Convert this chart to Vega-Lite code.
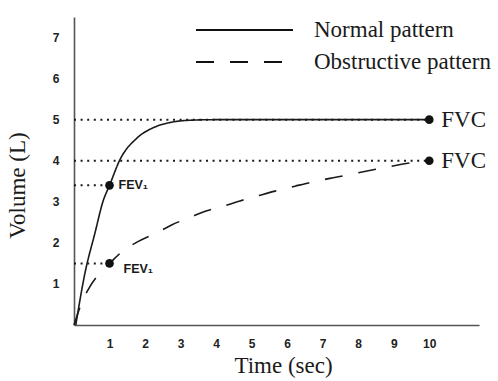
{
  "$schema": "https://vega.github.io/schema/vega-lite/v6.json",
  "width": 405,
  "height": 308,
  "autosize": {"type": "none"},
  "padding": {"left": 74, "top": 17, "right": 19, "bottom": 56},
  "background": "white",
  "datasets": {
    "curves": [
      {"pattern": "Normal pattern", "time": 0.05, "volume": 0},
      {"pattern": "Normal pattern", "time": 0.31, "volume": 1.27},
      {"pattern": "Normal pattern", "time": 0.59, "volume": 2.24},
      {"pattern": "Normal pattern", "time": 0.82, "volume": 3.02},
      {"pattern": "Normal pattern", "time": 1.0, "volume": 3.4},
      {"pattern": "Normal pattern", "time": 1.29, "volume": 4.02},
      {"pattern": "Normal pattern", "time": 1.77, "volume": 4.55},
      {"pattern": "Normal pattern", "time": 2.22, "volume": 4.8},
      {"pattern": "Normal pattern", "time": 2.7, "volume": 4.93},
      {"pattern": "Normal pattern", "time": 3.35, "volume": 4.99},
      {"pattern": "Normal pattern", "time": 4.0, "volume": 5.0},
      {"pattern": "Normal pattern", "time": 10.0, "volume": 5.0},
      {"pattern": "Obstructive pattern", "time": 0, "volume": 0},
      {"pattern": "Obstructive pattern", "time": 0.2, "volume": 0.5},
      {"pattern": "Obstructive pattern", "time": 0.39, "volume": 0.85},
      {"pattern": "Obstructive pattern", "time": 0.73, "volume": 1.27},
      {"pattern": "Obstructive pattern", "time": 1.0, "volume": 1.5},
      {"pattern": "Obstructive pattern", "time": 1.4, "volume": 1.82},
      {"pattern": "Obstructive pattern", "time": 1.8, "volume": 2.03},
      {"pattern": "Obstructive pattern", "time": 2.36, "volume": 2.26},
      {"pattern": "Obstructive pattern", "time": 2.76, "volume": 2.44},
      {"pattern": "Obstructive pattern", "time": 3.32, "volume": 2.64},
      {"pattern": "Obstructive pattern", "time": 3.74, "volume": 2.78},
      {"pattern": "Obstructive pattern", "time": 4.31, "volume": 2.92},
      {"pattern": "Obstructive pattern", "time": 4.67, "volume": 3.02},
      {"pattern": "Obstructive pattern", "time": 5.24, "volume": 3.16},
      {"pattern": "Obstructive pattern", "time": 5.66, "volume": 3.26},
      {"pattern": "Obstructive pattern", "time": 6.22, "volume": 3.38},
      {"pattern": "Obstructive pattern", "time": 6.7, "volume": 3.48},
      {"pattern": "Obstructive pattern", "time": 7.26, "volume": 3.58},
      {"pattern": "Obstructive pattern", "time": 7.68, "volume": 3.65},
      {"pattern": "Obstructive pattern", "time": 8.25, "volume": 3.75},
      {"pattern": "Obstructive pattern", "time": 8.67, "volume": 3.82},
      {"pattern": "Obstructive pattern", "time": 9.26, "volume": 3.92},
      {"pattern": "Obstructive pattern", "time": 10.0, "volume": 4.0}
    ],
    "guides": [
      {"level": 5, "start": 0, "end": 10},
      {"level": 4, "start": 0, "end": 10},
      {"level": 3.4, "start": 0, "end": 1},
      {"level": 1.5, "start": 0, "end": 1}
    ],
    "marks": [
      {"pattern": "Normal pattern", "kind": "FEV", "time": 1, "volume": 3.4, "label": "FEV₁"},
      {"pattern": "Obstructive pattern", "kind": "FEV", "time": 1, "volume": 1.5, "label": "FEV₁"},
      {"pattern": "Normal pattern", "kind": "FVC", "time": 10, "volume": 5, "label": "FVC"},
      {"pattern": "Obstructive pattern", "kind": "FVC", "time": 10, "volume": 4, "label": "FVC"}
    ]
  },
  "encoding": {
    "x": {
      "type": "quantitative",
      "scale": {"domain": [0, 11.4], "nice": false, "zero": false},
      "axis": {
        "title": "Time (sec)",
        "values": [1, 2, 3, 4, 5, 6, 7, 8, 9, 10],
        "titleX": 209,
        "titleY": 47,
        "titleAlign": "center",
        "titleBaseline": "alphabetic",
        "labelPadding": 13
      }
    },
    "y": {
      "type": "quantitative",
      "scale": {"domain": [0, 7.5], "nice": false},
      "axis": {
        "title": "Volume (L)",
        "values": [1, 2, 3, 4, 5, 6, 7],
        "titleX": -57,
        "titleY": 168,
        "titleAngle": -90,
        "titleAlign": "center",
        "titleBaseline": "middle",
        "labelPadding": 15
      }
    }
  },
  "layer": [
    {
      "data": {"name": "guides"},
      "mark": {"type": "rule", "stroke": "#1a1a1a", "strokeWidth": 2, "strokeDash": [2, 4.6]},
      "encoding": {
        "x": {"field": "start", "type": "quantitative"},
        "x2": {"field": "end"},
        "y": {"field": "level", "type": "quantitative"}
      }
    },
    {
      "data": {"name": "curves"},
      "mark": {"type": "line", "stroke": "#1a1a1a", "strokeWidth": 1.6, "interpolate": "monotone"},
      "encoding": {
        "x": {"field": "time", "type": "quantitative"},
        "y": {"field": "volume", "type": "quantitative"},
        "strokeDash": {
          "field": "pattern",
          "type": "nominal",
          "scale": {"domain": ["Normal pattern", "Obstructive pattern"], "range": [[1, 0], [18, 16]]},
          "legend": {
            "orient": "none",
            "legendX": 121,
            "legendY": -3,
            "title": null,
            "padding": 0,
            "symbolType": "stroke",
            "symbolSize": 9409,
            "symbolStrokeWidth": 1.8,
            "symbolStrokeColor": "#111111",
            "labelFont": "Liberation Serif",
            "labelFontSize": 23,
            "labelColor": "#1a1a1a",
            "labelOffset": 20,
            "labelLimit": 400,
            "clipHeight": 32,
            "rowPadding": 0
          }
        }
      }
    },
    {
      "data": {"name": "marks"},
      "mark": {"type": "circle", "size": 75, "opacity": 1, "color": "#111111"},
      "encoding": {
        "x": {"field": "time", "type": "quantitative"},
        "y": {"field": "volume", "type": "quantitative"}
      }
    },
    {
      "data": {"name": "marks"},
      "transform": [{"filter": "datum.kind === 'FVC'"}],
      "mark": {"type": "text", "align": "left", "baseline": "middle", "dx": 12, "font": "Liberation Serif", "fontSize": 23, "color": "#1a1a1a"},
      "encoding": {
        "x": {"field": "time", "type": "quantitative"},
        "y": {"field": "volume", "type": "quantitative"},
        "text": {"field": "label"}
      }
    },
    {
      "data": {"name": "marks"},
      "transform": [{"filter": "datum.kind === 'FEV' && datum.pattern === 'Normal pattern'"}],
      "mark": {"type": "text", "align": "left", "baseline": "middle", "dx": 9, "dy": 0, "font": "Liberation Sans", "fontWeight": "bold", "fontSize": 12.5, "color": "#1a1a1a"},
      "encoding": {
        "x": {"field": "time", "type": "quantitative"},
        "y": {"field": "volume", "type": "quantitative"},
        "text": {"field": "label"}
      }
    },
    {
      "data": {"name": "marks"},
      "transform": [{"filter": "datum.kind === 'FEV' && datum.pattern === 'Obstructive pattern'"}],
      "mark": {"type": "text", "align": "left", "baseline": "middle", "dx": 14, "dy": 6, "font": "Liberation Sans", "fontWeight": "bold", "fontSize": 12.5, "color": "#1a1a1a"},
      "encoding": {
        "x": {"field": "time", "type": "quantitative"},
        "y": {"field": "volume", "type": "quantitative"},
        "text": {"field": "label"}
      }
    }
  ],
  "config": {
    "view": {"stroke": null},
    "axis": {
      "grid": false,
      "ticks": false,
      "domainColor": "#555555",
      "domainWidth": 1.6,
      "labelFont": "Liberation Sans",
      "labelFontWeight": "bold",
      "labelFontSize": 12,
      "labelColor": "#222222",
      "titleFont": "Liberation Serif",
      "titleFontWeight": "normal",
      "titleFontSize": 23,
      "titleColor": "#1a1a1a"
    }
  }
}
